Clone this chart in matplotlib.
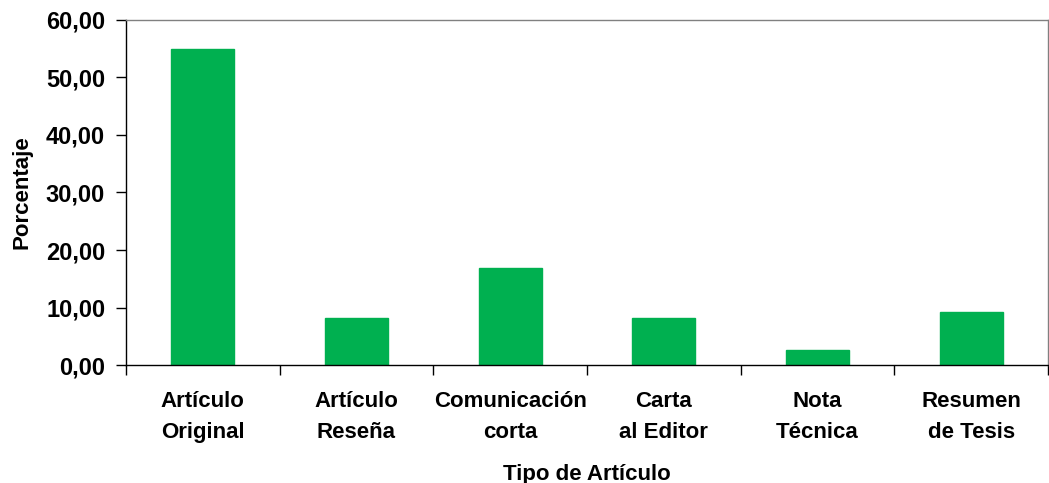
import numpy as np
import matplotlib.pyplot as plt

# Data
categorias = ["Artículo\nOriginal", "Artículo\nReseña", "Comunicación\ncorta",
              "Carta\nal Editor", "Nota\nTécnica", "Resumen\nde Tesis"]
porcentajes = [55.0, 8.2, 16.9, 8.2, 2.6, 9.2]
y_ticks = [0, 10, 20, 30, 40, 50, 60]

plt.rcParams['font.family'] = ['Liberation Sans', 'DejaVu Sans']
plt.rcParams['font.weight'] = 'bold'

fig = plt.figure(figsize=(10.49, 4.83), dpi=100)
ax = fig.add_axes([0.1201, 0.2443, 0.8789, 0.7143])

x = np.arange(len(categorias))
ax.bar(x, porcentajes, width=0.41, color='#00B050', edgecolor='#00B050', zorder=2)

ax.set_xlim(-0.5, len(categorias) - 0.5)
ax.set_ylim(0, 60)
ax.set_yticks(y_ticks)
ax.set_yticklabels([f"{v:.2f}".replace('.', ',') for v in y_ticks], fontsize=17, fontweight='bold')

# category labels centred, tick marks between categories
ax.set_xticks(x)
ax.set_xticklabels(categorias, fontsize=16, fontweight='bold', linespacing=1.6)
ax.tick_params(axis='x', which='major', length=0, pad=19)
ax.set_xticks(np.arange(-0.5, len(categorias)), minor=True)
ax.tick_params(axis='x', which='minor', length=7, width=1, direction='out', color='black')
ax.tick_params(axis='y', length=7, width=1, direction='out', pad=8)

for s in ['left', 'bottom']:
    ax.spines[s].set_color('black')
    ax.spines[s].set_linewidth(1)
for s in ['top', 'right']:
    ax.spines[s].set_color('#808080')
    ax.spines[s].set_linewidth(1)

ax.set_xlabel("Tipo de Artículo", fontsize=16, fontweight='bold', labelpad=15)
ax.set_ylabel("Porcentaje", fontsize=16, fontweight='bold', labelpad=10)

fig.savefig('out.png', dpi=100)
